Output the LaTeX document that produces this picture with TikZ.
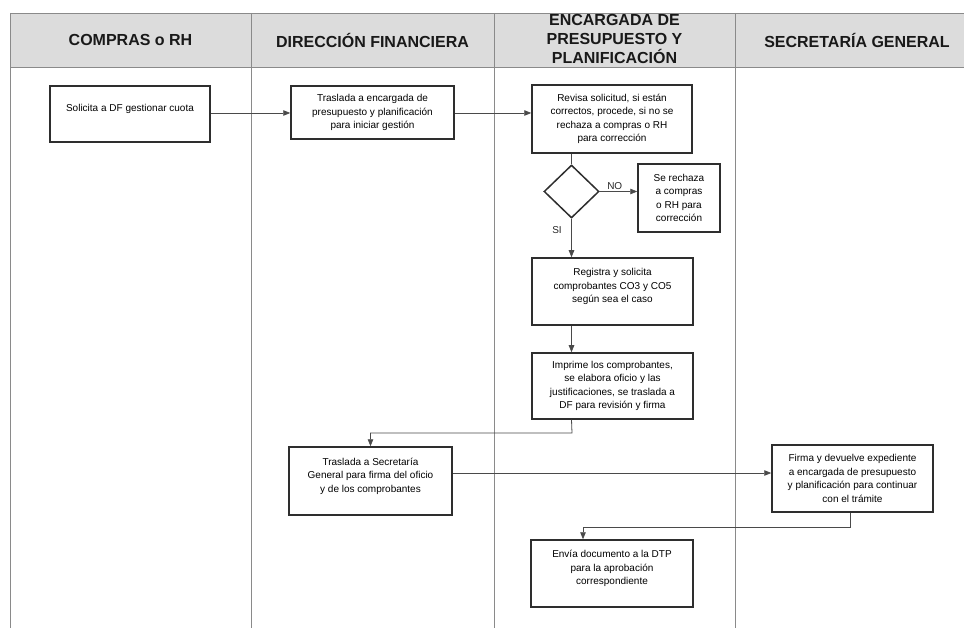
\documentclass[tikz,border=0pt]{standalone}
\usepackage{fontspec}
\setmainfont{Liberation Sans}
\usetikzlibrary{arrows.meta,shapes.geometric}
\definecolor{hdrgray}{HTML}{DCDCDC}
\definecolor{lanegray}{HTML}{8A8A8A}
\definecolor{boxline}{HTML}{2E2E2E}
\definecolor{conn}{HTML}{4A4A4A}
\tikzset{
  stepbox/.style={draw=boxline, line width=1.5pt, fill=white, inner sep=0pt},
  txt/.style={font=\fontsize{10}{13.4}\selectfont, align=center, text=black},
  hdr/.style={font=\fontsize{16}{19}\selectfont\bfseries, align=center, text=black!90},
  lane/.style={draw=lanegray, line width=0.9pt},
  arr/.style={draw=conn, line width=0.8pt, -{Triangle[length=7pt,width=5.5pt]}},
  ln/.style={draw=conn, line width=0.8pt},
  dec/.style={diamond, draw=boxline, line width=1.5pt, fill=white, inner sep=0pt, minimum width=55pt, minimum height=53pt, aspect=1.04},
  lbl/.style={font=\fontsize{10}{12}\selectfont, text=black!85}
}
\begin{document}
\begin{tikzpicture}[x=1pt,y=-1pt]
\useasboundingbox (0,0) rectangle (964,628);
% header
\fill[hdrgray] (10,13) rectangle (964,67);
\draw[lane] (10,13) -- (964,13);
\draw[lane] (10,67) -- (964,67);
\foreach \xx in {10,251,494,735} \draw[lane] (\xx,13) -- (\xx,628);
\node[hdr] (h1) at (130.5,40) {COMPRAS o RH};
\node[hdr] (h2) at (372.5,40) {DIRECCIÓN FINANCIERA};
\node[hdr] (h3) at (614.5,39) {ENCARGADA DE\\PRESUPUESTO Y\\PLANIFICACIÓN};
\node[hdr] (h4) at (857,40) {SECRETARÍA GENERAL};
% boxes
\node[stepbox, minimum width=160pt, minimum height=56pt,
  label={[txt, yshift=5pt]center:Solicita a DF gestionar cuota}] (b1) at (130,114) {};
\node[stepbox, txt, minimum width=163pt, minimum height=53pt] (b2) at (372.5,112.5)
  {Traslada a encargada de\\presupuesto y planificación\\para iniciar gestión};
\node[stepbox, txt, minimum width=160pt, minimum height=68pt] (b3) at (612,119)
  {Revisa solicitud, si están\\correctos, procede, si no se\\rechaza a compras o RH\\para corrección};
\node[dec] (d) at (571.5,191.5) {};
\node[stepbox, txt, minimum width=82pt, minimum height=68pt] (no) at (679,198)
  {Se rechaza\\a compras\\o RH para\\corrección};
\node[stepbox, minimum width=161pt, minimum height=67pt,
  label={[txt, yshift=5pt]center:{Registra y solicita\\comprobantes CO3 y CO5\\según sea el caso}}] (reg) at (612.5,291.5) {};
\node[stepbox, txt, minimum width=161pt, minimum height=66pt] (imp) at (612.5,386)
  {Imprime los comprobantes,\\se elabora oficio y las\\justificaciones, se traslada a\\DF para revisión y firma};
\node[stepbox, minimum width=163pt, minimum height=68pt,
  label={[txt, yshift=5pt]center:{Traslada a Secretaría\\General para firma del oficio\\y de los comprobantes}}] (ts) at (370.5,481) {};
\node[stepbox, txt, minimum width=161pt, minimum height=67pt] (fi) at (852.5,478.5)
  {Firma y devuelve expediente\\a encargada de presupuesto\\y planificación para continuar\\con el trámite};
\node[stepbox, minimum width=162pt, minimum height=67pt,
  label={[txt, yshift=5pt]center:{Envía documento a la DTP\\para la aprobación\\correspondiente}}] (dtp) at (612,573.5) {};
% connectors
\draw[arr] (b1.east |- 0,113) -- (b2.west |- 0,113);
\draw[arr] (b2.east |- 0,113) -- (b3.west |- 0,113);
\draw[ln] (d.north |- b3.south) -- (d.north);
\draw[arr] (d.east) -- (no.west |- d.east) node[lbl, pos=0.4, above=-2pt] (nolbl) {NO};
\node[lbl] (silbl) at (557,230) {SI};
\draw[arr] (d.south) -- (d.south |- reg.north);
\draw[arr] (d.south |- reg.south) -- (d.south |- imp.north);
\coordinate (t1) at (572,433);
\draw[arr] (d.south |- imp.south) -- (t1) -| (ts.north);
\coordinate (c1) at (452,473);
\draw[arr] (ts.east |- c1) -- (fi.west |- c1);
\coordinate (c2) at (850,527);
\coordinate (c3) at (583,527);
\draw[arr] (c2 |- fi.south) -- (c2) -- (c3) -- (c3 |- dtp.north);
\end{tikzpicture}
\end{document}
